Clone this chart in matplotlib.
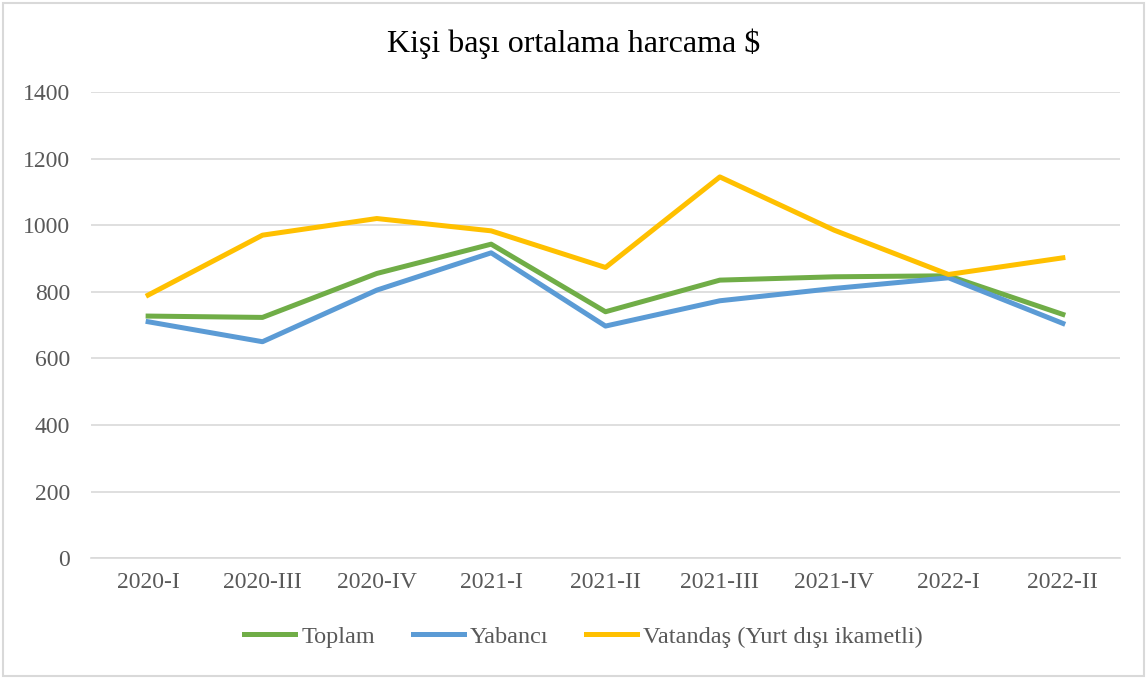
import matplotlib.pyplot as plt

periods = ["2020-I", "2020-III", "2020-IV", "2021-I", "2021-II", "2021-III", "2021-IV", "2022-I", "2022-II"]
toplam = [727, 723, 855, 943, 740, 835, 845, 848, 732]
yabanci = [710, 650, 805, 917, 697, 773, 810, 842, 705]
vatandas = [790, 970, 1020, 983, 873, 1145, 985, 852, 902]

plt.rcParams["font.family"] = ["Liberation Serif", "DejaVu Serif"]

fig = plt.figure(figsize=(11.47, 6.79), dpi=100)
ax = fig.add_axes([0.0793, 0.178, 0.8972, 0.6865])

x = range(len(periods))
ax.plot(x, toplam, color="#70AD47", linewidth=3.6, label="Toplam", solid_joinstyle="round")
ax.plot(x, yabanci, color="#5B9BD5", linewidth=3.6, label="Yabancı", solid_joinstyle="round")
ax.plot(x, vatandas, color="#FFC000", linewidth=3.6, label="Vatandaş (Yurt dışı ikametli)", solid_joinstyle="round")

ax.set_xlim(-0.5, len(periods) - 0.5)
ax.set_ylim(0, 1400)
ax.set_yticks(range(0, 1401, 200))
ax.set_xticks(list(x))
ax.set_xticklabels(periods)
ax.tick_params(axis="both", length=0, labelsize=17, colors="#595959")
ax.tick_params(axis="x", pad=10)
ax.tick_params(axis="y", pad=15)
ax.grid(axis="y", color="#D9D9D9", linewidth=1.2)
ax.set_axisbelow(True)
for s in ["top", "right", "left"]:
    ax.spines[s].set_visible(False)
ax.spines["bottom"].set_color("#D9D9D9")
ax.spines["bottom"].set_linewidth(1.2)

fig.text(0.5, 0.935, "Kişi başı ortalama harcama $", ha="center", va="center", fontsize=23, color="#000000")

fig.legend(loc="center", bbox_to_anchor=(0.509, 0.062), ncol=3, frameon=False, fontsize=17.5,
           handlelength=2.1, columnspacing=1.55, handletextpad=0.25, labelcolor="#595959")

# outer border
fig.patches.append(plt.Rectangle((0.003, 0.004), 0.994, 0.992, transform=fig.transFigure,
                                 fill=False, edgecolor="#D9D9D9", linewidth=1.5))

fig.savefig("out.png", dpi=100)
